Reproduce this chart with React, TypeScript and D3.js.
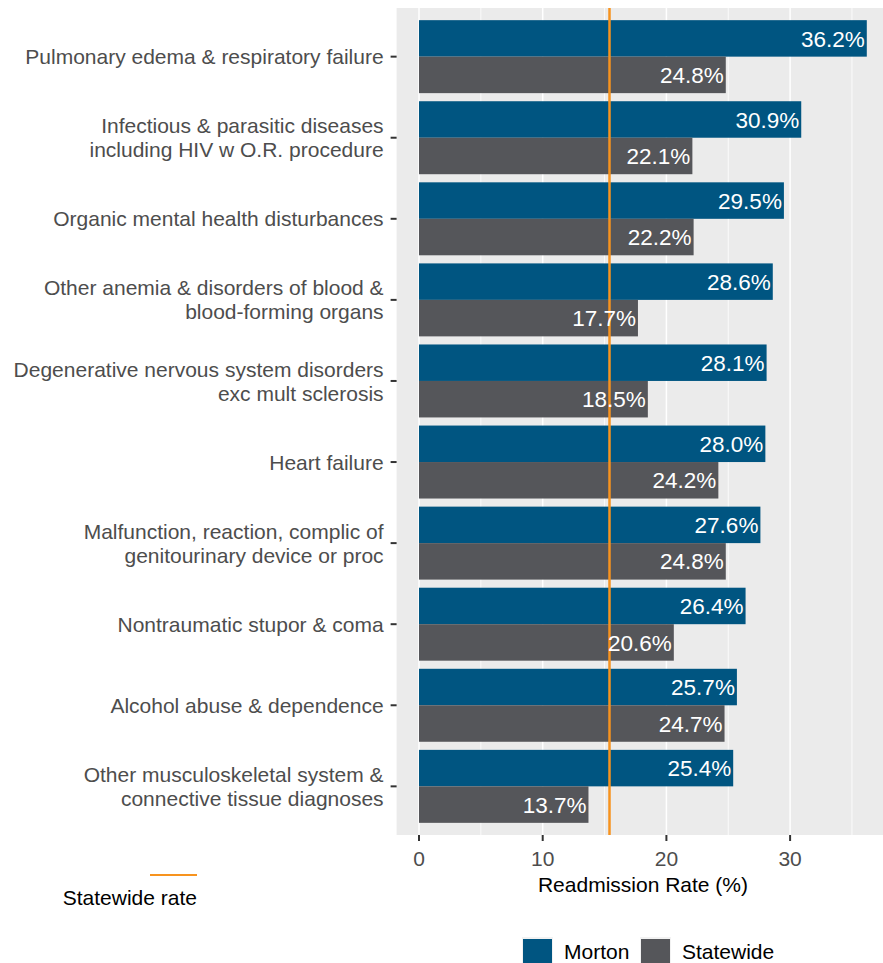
import React, { useRef, useEffect } from "react";
import * as d3 from "d3";

const categories = [
  ["Pulmonary edema & respiratory failure"],
  ["Infectious & parasitic diseases", "including HIV w O.R. procedure"],
  ["Organic mental health disturbances"],
  ["Other anemia & disorders of blood &", "blood-forming organs"],
  ["Degenerative nervous system disorders", "exc mult sclerosis"],
  ["Heart failure"],
  ["Malfunction, reaction, complic of", "genitourinary device or proc"],
  ["Nontraumatic stupor & coma"],
  ["Alcohol abuse & dependence"],
  ["Other musculoskeletal system &", "connective tissue diagnoses"],
];
const morton = [36.2, 30.9, 29.5, 28.6, 28.1, 28.0, 27.6, 26.4, 25.7, 25.4];
const statewide = [24.8, 22.1, 22.2, 17.7, 18.5, 24.2, 24.8, 20.6, 24.7, 13.7];
const statewideRate = 15.4;
const xTicks = [0, 10, 20, 30];
const minorTicks = [5, 15, 25, 35];
const seriesNames = ["Morton", "Statewide"];
const seriesColors = ["#005581", "#55565a"];
const lineColor = "#f7931e";

const W = 883;
const H = 963;

const App = () => {
  const ref = useRef(null);

  useEffect(() => {
    const svg = d3.select(ref.current);
    svg.selectAll("*").remove();
    const font = "'Liberation Sans', Arial, sans-serif";
    const fs = 21;

    const top = 8;
    const bottom = 835;
    const max = d3.max(morton.concat(statewide));
    const pad = max * 0.05;
    const unit = 12.37;
    const x = d3.scaleLinear().domain([-pad, max + pad]).range([419 - pad * unit, 419 + (max + pad) * unit]);
    const left = x(-pad);

    const n = categories.length;
    const step = (bottom - top) / (n - 1 + 1.2);
    const yc = (i) => top + step * (0.6 + i);
    const barH = (step * 0.9) / 2;

    // panel
    svg.append("rect").attr("x", left).attr("y", top).attr("width", W - left).attr("height", bottom - top).attr("fill", "#ebebeb");
    minorTicks.forEach((t) => {
      svg.append("line").attr("x1", x(t)).attr("x2", x(t)).attr("y1", top).attr("y2", bottom)
        .attr("stroke", "#fff").attr("stroke-width", 0.8);
    });
    xTicks.forEach((t) => {
      svg.append("line").attr("x1", x(t)).attr("x2", x(t)).attr("y1", top).attr("y2", bottom)
        .attr("stroke", "#fff").attr("stroke-width", 1.5);
    });

    // bars
    const g = svg.append("g");
    categories.forEach((c, i) => {
      [morton[i], statewide[i]].forEach((v, j) => {
        const y0 = yc(i) - barH + j * barH;
        g.append("rect").attr("x", x(0)).attr("y", y0).attr("width", x(v) - x(0)).attr("height", barH)
          .attr("fill", seriesColors[j]);
      });
    });

    // statewide line
    svg.append("line").attr("x1", x(statewideRate)).attr("x2", x(statewideRate)).attr("y1", top).attr("y2", bottom)
      .attr("stroke", lineColor).attr("stroke-width", 2.5);

    // value labels
    categories.forEach((c, i) => {
      [morton[i], statewide[i]].forEach((v, j) => {
        const yMid = yc(i) - barH / 2 + j * barH;
        svg.append("text").attr("x", x(v) - 2).attr("y", yMid).attr("dy", "0.36em")
          .attr("text-anchor", "end").attr("fill", "#fff").attr("font-family", font).attr("font-size", 22.5)
          .text(v.toFixed(1) + "%");
      });
    });

    // y axis
    categories.forEach((lines, i) => {
      const y = yc(i);
      svg.append("line").attr("x1", left - 6).attr("x2", left).attr("y1", y).attr("y2", y)
        .attr("stroke", "#333").attr("stroke-width", 2);
      const lh = 24;
      lines.forEach((s, k) => {
        svg.append("text").attr("x", left - 13).attr("y", y + (k - (lines.length - 1) / 2) * lh).attr("dy", "0.36em")
          .attr("text-anchor", "end").attr("fill", "#4d4d4d").attr("font-family", font).attr("font-size", fs)
          .text(s);
      });
    });

    // x axis
    xTicks.forEach((t) => {
      svg.append("line").attr("x1", x(t)).attr("x2", x(t)).attr("y1", bottom).attr("y2", bottom + 6)
        .attr("stroke", "#333").attr("stroke-width", 2);
      svg.append("text").attr("x", x(t)).attr("y", bottom + 23).attr("dy", "0.36em").attr("text-anchor", "middle")
        .attr("fill", "#4d4d4d").attr("font-family", font).attr("font-size", fs).text(t);
    });
    svg.append("text").attr("x", 643).attr("y", 884).attr("dy", "0.36em").attr("text-anchor", "middle")
      .attr("fill", "#000").attr("font-family", font).attr("font-size", fs).text("Readmission Rate (%)");

    // statewide rate legend
    svg.append("line").attr("x1", 150).attr("x2", 197).attr("y1", 875).attr("y2", 875)
      .attr("stroke", lineColor).attr("stroke-width", 2);
    svg.append("text").attr("x", 197).attr("y", 897).attr("dy", "0.36em").attr("text-anchor", "end")
      .attr("fill", "#000").attr("font-family", font).attr("font-size", fs).text("Statewide rate");

    // series legend
    const lx = [523, 641];
    seriesNames.forEach((s, j) => {
      svg.append("rect").attr("x", lx[j] - 1).attr("y", 937).attr("width", 31).attr("height", 30).attr("fill", "#f2f2f2");
      svg.append("rect").attr("x", lx[j]).attr("y", 939).attr("width", 29).attr("height", 29).attr("fill", seriesColors[j]);
      svg.append("text").attr("x", lx[j] + 41).attr("y", 951).attr("dy", "0.36em")
        .attr("fill", "#000").attr("font-family", font).attr("font-size", fs).text(s);
    });
  }, []);

  return <svg ref={ref} width={W} height={H} style={{ position: "absolute", left: 0, top: 0, display: "block" }} />;
};

export default App;
